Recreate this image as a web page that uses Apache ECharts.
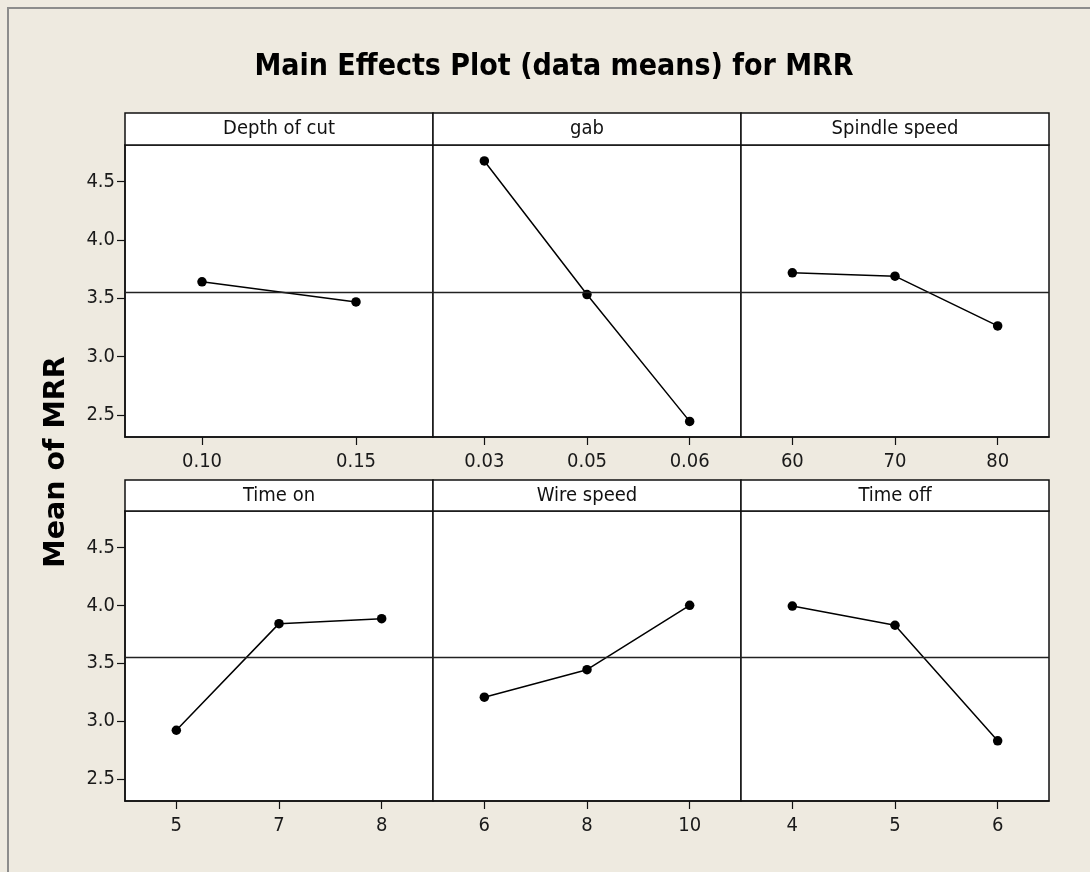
<!DOCTYPE html>
<html>
<head>
<meta charset="utf-8">
<script src="https://cdn.jsdelivr.net/npm/echarts@6/dist/echarts.min.js"></script>
<style>
  html, body { margin: 0; padding: 0; background: #EEEAE0; }
  #chart { width: 1090px; height: 872px; }
</style>
</head>
<body>
<div id="chart"></div>
<script>
// ---- data ----
const chartTitle = 'Main Effects Plot (data means) for MRR';
const yAxisTitle = 'Mean of MRR';
const factorNames = ['Depth of cut', 'gab', 'Spindle speed', 'Time on', 'Wire speed', 'Time off'];
const depthLevels = ['0.10', '0.15'];
const depthMeans = [3.641, 3.469];
const gabLevels = ['0.03', '0.05', '0.06'];
const gabMeans = [4.678, 3.532, 2.444];
const spindleLevels = ['60', '70', '80'];
const spindleMeans = [3.718, 3.690, 3.263];
const timeOnLevels = ['5', '7', '8'];
const timeOnMeans = [2.921, 3.842, 3.885];
const wireLevels = ['6', '8', '10'];
const wireMeans = [3.207, 3.444, 4.000];
const timeOffLevels = ['4', '5', '6'];
const timeOffMeans = [3.994, 3.828, 2.830];
const yTickValues = [2.5, 3.0, 3.5, 4.0, 4.5];
const grandMean = 3.553;
const yMin = 2.31;
const yMax = 4.815;

// ---- layout ----
const levelsList = [depthLevels, gabLevels, spindleLevels, timeOnLevels, wireLevels, timeOffLevels];
const meansList = [depthMeans, gabMeans, spindleMeans, timeOnMeans, wireMeans, timeOffMeans];
const panelLeft = 125, panelW = 308;
const rows = [
  { headerTop: 113, headerH: 32, top: 145, height: 292 },
  { headerTop: 480, headerH: 31, top: 511, height: 290 }
];
const tickFont = "'DejaVu Sans Condensed', 'Liberation Sans Narrow', sans-serif";
const ink = '#111';

const grids = [], xAxes = [], yAxes = [], series = [], graphics = [];

graphics.push({
  type: 'rect', z: 0, silent: true,
  shape: { x: 8, y: 8, width: 1100, height: 900 },
  style: { fill: 'none', stroke: '#8c8c8c', lineWidth: 2 }
});
graphics.push({
  type: 'text', silent: true,
  x: 554, y: 67,
  style: {
    text: chartTitle, x: 0, y: 0, textAlign: 'center', textVerticalAlign: 'middle',
    font: "bold 30px 'DejaVu Sans Condensed', 'Liberation Sans Narrow', sans-serif", fill: '#000'
  }
});
graphics.push({
  type: 'text', silent: true,
  x: 57, y: 462, rotation: Math.PI / 2,
  style: {
    text: yAxisTitle, x: 0, y: 0, textAlign: 'center', textVerticalAlign: 'middle',
    font: "bold 28.5px 'DejaVu Sans', Verdana, sans-serif", fill: '#000'
  }
});

for (let i = 0; i < 6; i++) {
  const r = rows[Math.floor(i / 3)];
  const col = i % 3;
  const left = panelLeft + col * panelW;
  grids.push({
    left: left, top: r.top, width: panelW, height: r.height,
    show: true, backgroundColor: '#ffffff', borderColor: ink, borderWidth: 1.5
  });
  xAxes.push({
    gridIndex: i, type: 'category', data: levelsList[i], boundaryGap: true,
    axisLine: { show: true, lineStyle: { color: ink, width: 1.5 } },
    axisTick: { show: true, alignWithLabel: true, length: 8, lineStyle: { color: ink, width: 1.2 } },
    axisLabel: { show: true, margin: 15, fontSize: 20, fontFamily: tickFont, color: '#1a1a1a' },
    splitLine: { show: false }
  });
  const isLeft = col === 0;
  yAxes.push({
    gridIndex: i, type: 'value', min: yMin, max: yMax,
    axisLine: { show: isLeft, lineStyle: { color: ink, width: 1.5 } },
    axisTick: { show: isLeft, length: 8, customValues: yTickValues, lineStyle: { color: ink, width: 1.2 } },
    axisLabel: {
      show: isLeft, margin: 10, fontSize: 20, fontFamily: tickFont, color: '#1a1a1a',
      customValues: yTickValues, formatter: v => Number(v).toFixed(1)
    },
    splitLine: { show: false }
  });
  series.push({
    type: 'line', xAxisIndex: i, yAxisIndex: i, data: meansList[i],
    symbol: 'circle', symbolSize: 9.5,
    lineStyle: { color: '#000', width: 1.5 },
    itemStyle: { color: '#000' },
    animation: false,
    markLine: {
      silent: true, symbol: 'none', label: { show: false },
      lineStyle: { color: '#222', width: 1.3, type: 'solid' },
      data: [{ yAxis: grandMean }],
      animation: false
    }
  });
  graphics.push({
    type: 'rect', silent: true, z: 10,
    shape: { x: left, y: r.headerTop, width: panelW, height: r.headerH },
    style: { fill: '#ffffff', stroke: ink, lineWidth: 1.5 }
  });
  graphics.push({
    type: 'text', silent: true, z: 11,
    x: left + panelW / 2, y: r.headerTop + r.headerH / 2,
    style: {
      text: factorNames[i], x: 0, y: 0, textAlign: 'center', textVerticalAlign: 'middle',
      font: "20px " + tickFont, fill: '#111'
    }
  });
}

const chart = echarts.init(document.getElementById('chart'), null, { renderer: 'canvas' });
chart.setOption({
  backgroundColor: '#EEEAE0',
  animation: false,
  grid: grids,
  xAxis: xAxes,
  yAxis: yAxes,
  series: series,
  graphic: { elements: graphics }
});
</script>
</body>
</html>
